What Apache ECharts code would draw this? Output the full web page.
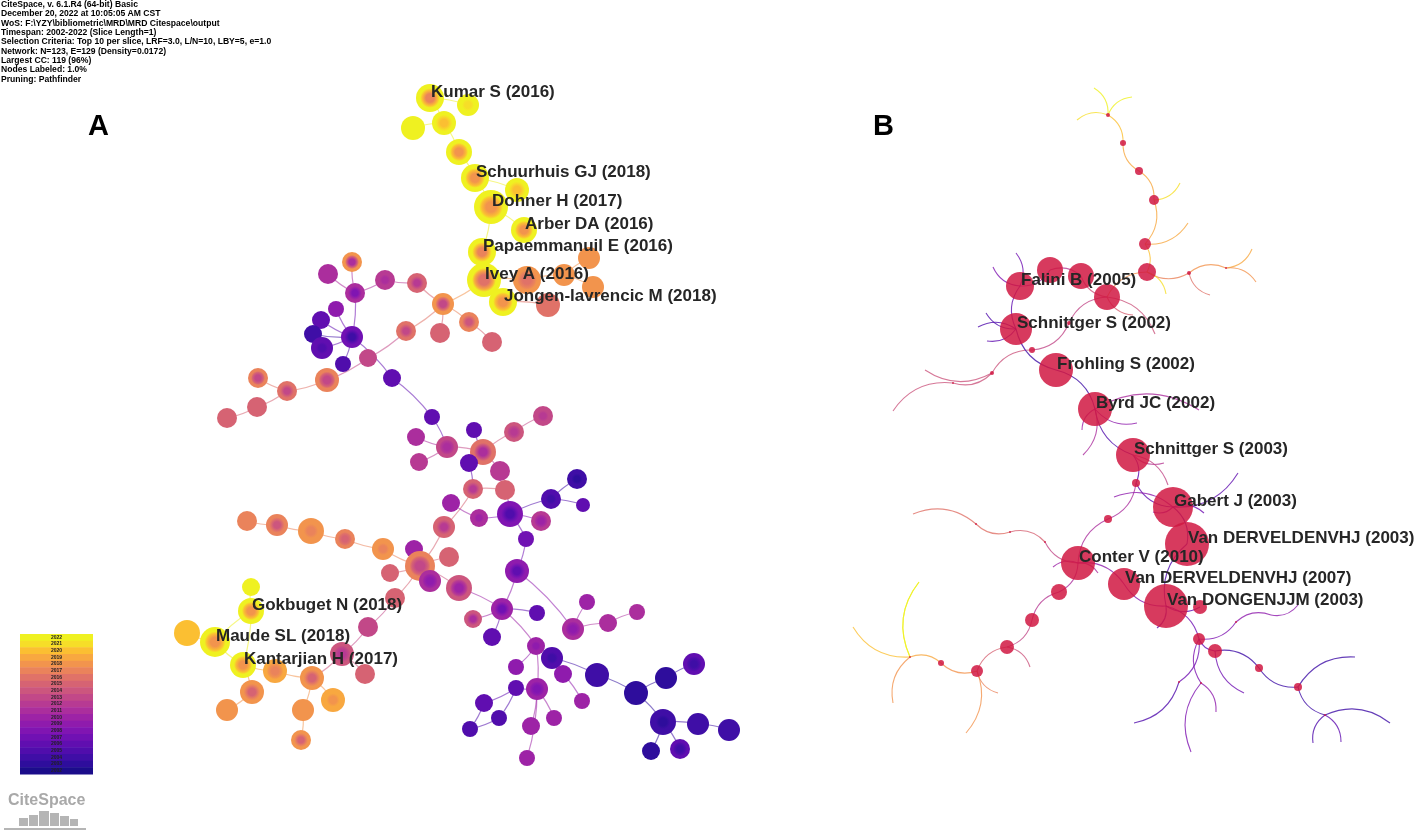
<!DOCTYPE html>
<html><head><meta charset="utf-8">
<script src="https://cdn.jsdelivr.net/npm/echarts@6/dist/echarts.min.js"></script>
<style>html,body{margin:0;padding:0;background:#fff}#c{width:1417px;height:834px}</style>
</head><body><div id="c"></div>
<script>
// ---------- data ----------
const years = [2002,2003,2004,2005,2006,2007,2008,2009,2010,2011,2012,2013,2014,2015,2016,2017,2018,2019,2020,2021,2022];
const yearColors = ['#1b0c8a','#2e0d9c','#3f0ea6','#500dac','#600eb0','#7011b3','#8015b2','#8f1bad','#9d23a6','#ab2e9d','#b73a93','#c24888','#cc567e','#d66373','#e07268','#ea835b','#f2944d','#f8a840','#fbbf32','#f6de28','#eff121'];
const headerLines = [
  'CiteSpace, v. 6.1.R4 (64-bit) Basic',
  'December 20, 2022 at 10:05:05 AM CST',
  'WoS: F:\\YZY\\bibliometric\\MRD\\MRD Citespace\\output',
  'Timespan: 2002-2022 (Slice Length=1)',
  'Selection Criteria: Top 10 per slice, LRF=3.0, L/N=10, LBY=5, e=1.0',
  'Network: N=123, E=129 (Density=0.0172)',
  'Largest CC: 119 (96%)',
  'Nodes Labeled: 1.0%',
  'Pruning: Pathfinder'
];
const panelTitles = ['A','B'];
// panel A nodes: [x, y, radius, outer year, inner year]
const nodesA = [
[430,98,14,2022,2017],[468,105,11,2022,2021],[413,128,12,2022,2022],[444,123,12,2022,2020],[459,152,13,2022,2018],
[475,178,14,2022,2018],[517,190,12,2022,2020],[491,207,17,2022,2018],[524,230,13,2022,2018],[482,252,14,2022,2017],
[589,258,11,2018,2018],[484,280,17,2022,2016],[527,280,14,2018,2016],[564,275,11,2018,2018],[593,287,11,2018,2018],
[503,302,14,2022,2018],[548,305,12,2016,2016],[352,262,10,2018,2011],[328,274,10,2011,2011],[355,293,10,2011,2008],
[385,280,10,2012,2011],[417,283,10,2015,2012],[336,309,8,2009,2009],[321,320,9,2006,2006],[313,334,9,2004,2004],
[352,337,11,2007,2004],[322,348,11,2006,2005],[343,364,8,2005,2005],[368,358,9,2013,2013],[443,304,11,2018,2013],
[469,322,10,2017,2014],[492,342,10,2015,2015],[440,333,10,2015,2015],[406,331,10,2016,2013],[392,378,9,2006,2006],
[327,380,12,2017,2013],[287,391,10,2016,2013],[258,378,10,2017,2013],[257,407,10,2015,2015],[227,418,10,2015,2015],
[432,417,8,2006,2006],[543,416,10,2013,2012],[514,432,10,2014,2012],[474,430,8,2006,2006],[416,437,9,2011,2011],
[447,447,11,2013,2011],[483,452,13,2016,2011],[419,462,9,2012,2012],[469,463,9,2006,2006],[500,471,10,2012,2012],
[473,489,10,2015,2012],[505,490,10,2015,2015],[577,479,10,2004,2003],[551,499,10,2005,2004],[583,505,7,2006,2006],
[451,503,9,2010,2010],[479,518,9,2011,2010],[510,514,13,2008,2005],[541,521,10,2012,2010],[526,539,8,2007,2007],
[444,527,11,2015,2012],[383,549,11,2018,2017],[414,549,9,2010,2010],[449,557,10,2015,2015],[420,566,15,2017,2013],
[390,573,9,2015,2015],[517,571,12,2009,2006],[430,581,11,2011,2009],[459,588,13,2014,2010],[395,598,10,2015,2015],
[502,609,11,2010,2007],[473,619,9,2014,2011],[537,613,8,2006,2006],[587,602,8,2010,2010],[573,629,11,2011,2009],
[608,623,9,2011,2011],[637,612,8,2011,2011],[492,637,9,2006,2006],[536,646,9,2010,2009],[552,658,11,2005,2004],
[516,667,8,2009,2009],[563,674,9,2009,2009],[597,675,12,2004,2004],[516,688,8,2006,2006],[537,689,11,2010,2008],
[484,703,9,2006,2006],[582,701,8,2010,2010],[636,693,12,2003,2003],[666,678,11,2003,2003],[694,664,11,2006,2004],
[499,718,8,2005,2005],[470,729,8,2005,2005],[531,726,9,2010,2010],[554,718,8,2010,2010],[663,722,13,2004,2003],
[698,724,11,2004,2004],[729,730,11,2004,2004],[651,751,9,2003,2003],[680,749,10,2006,2004],[527,758,8,2010,2010],
[247,521,10,2017,2017],[277,525,11,2017,2014],[311,531,13,2018,2017],[345,539,10,2017,2015],[368,627,10,2013,2013],
[342,654,12,2014,2012],[365,674,10,2015,2015],[251,587,9,2022,2022],[251,611,13,2022,2018],[187,633,13,2020,2020],
[215,642,15,2022,2018],[243,665,13,2022,2018],[275,671,12,2019,2017],[312,678,12,2018,2015],[252,692,12,2018,2015],
[333,700,12,2019,2018],[227,710,11,2018,2018],[303,710,11,2018,2018],[301,740,10,2018,2015]
];
const edgesA = [
[0,1],[0,3],[2,3],[3,4],[4,5],[5,6],[5,7],[7,9],[7,8],[9,11],[11,12],[12,13],[13,10],[13,14],[11,15],[15,16],[11,29],
[29,21],[21,20],[20,19],[19,17],[19,18],[19,25],[25,22],[25,23],[25,24],[25,26],[25,27],[25,34],[34,40],
[29,30],[30,31],[29,32],[29,33],[33,28],[28,35],[35,36],[36,37],[36,38],[38,39],
[40,45],[45,44],[45,47],[45,46],[46,43],[46,42],[42,41],[46,48],[46,49],[48,50],[50,60],[60,64],[50,51],[51,57],
[57,53],[53,52],[53,54],[57,56],[56,55],[57,58],[57,59],[59,66],
[64,61],[64,62],[64,63],[64,65],[64,68],[64,69],[61,103],[103,102],[102,101],[101,100],
[69,104],[104,105],[105,106],[105,113],[113,115],[113,117],[117,118],[113,112],[112,111],[111,114],[114,116],
[111,110],[110,109],[110,108],[108,107],[108,111],
[66,70],[68,70],[70,71],[70,77],[70,72],[66,74],[74,73],[74,75],[75,76],[70,78],[78,79],[79,82],[79,81],[81,86],
[82,87],[87,88],[88,89],[87,94],[94,95],[95,96],[94,97],[94,98],[78,80],[78,84],[84,83],[84,92],[84,93],[84,99],
[83,85],[85,91],[83,90],[90,91]
];
const labelsA = [[0,'Kumar S (2016)'],[5,'Schuurhuis GJ (2018)'],[7,'Dohner H (2017)'],[8,'Arber DA (2016)'],
[9,'Papaemmanuil E (2016)'],[11,'Ivey A (2016)'],[15,'Jongen-lavrencic M (2018)'],[108,'Gokbuget N (2018)'],
[110,'Maude SL (2018)'],[111,'Kantarjian H (2017)']];
// panel B nodes: [x, y, radius]  (radius 0 = link end point)
const nodesB = [
[1108,115,2],[1123,143,3],[1139,171,4],[1154,200,5],[1145,244,6],[1147,272,9],[1189,273,2],[1226,268,1],[1050,270,13],[1081,276,13],
[1020,286,14],[1107,297,13],[1016,329,16],[1069,323,2],[1032,350,3],[992,373,2],[953,383,1],[1056,370,17],[1095,409,17],[1133,455,17],
[1136,483,4],[1173,507,20],[1108,519,4],[1187,544,22],[1078,563,17],[1124,584,16],[1166,606,22],[1200,607,7],[1059,592,8],[1032,620,7],
[1007,647,7],[977,671,6],[941,663,3],[910,657,1],[1199,639,6],[1215,651,7],[1259,668,4],[1298,687,4],[1325,715,1],[1236,622,1],
[1179,682,1],[1201,683,1],[1045,542,1],[1010,532,1],[976,524,1],
[1094,88,0],[1132,97,0],[1077,120,0],[1180,183,0],[1188,223,0],[1252,249,0],[1256,282,0],[1210,295,0],[1166,294,0],[1155,334,0],
[1133,315,0],[1016,253,0],[993,267,0],[986,313,0],[978,327,0],[987,341,0],[925,370,0],[893,411,0],[1082,430,0],[1083,455,0],
[1137,423,0],[1199,410,0],[1164,463,0],[1168,485,0],[1238,473,0],[1204,513,0],[1114,497,0],[1153,512,0],[913,514,0],[1053,567,0],
[1098,573,0],[1030,667,0],[998,693,0],[966,733,0],[893,703,0],[853,627,0],[919,582,0],[1134,723,0],[1191,752,0],[1216,712,0],
[1244,693,0],[1271,615,0],[1298,605,0],[1355,657,0],[1390,723,0],[1313,743,0],[1341,742,0],[1157,628,0]
];
// panel B links: [from, to, year]
const edgesB = [
[0,45,2022],[0,46,2022],[0,47,2021],[0,1,2020],[1,2,2019],[2,3,2019],[3,48,2021],[3,4,2019],[4,49,2019],[4,5,2020],
[5,6,2017],[6,7,2018],[7,50,2019],[7,51,2018],[6,52,2016],[5,53,2021],[5,11,2018],[11,9,2014],[9,8,2012],[8,10,2010],
[10,56,2007],[10,57,2008],[10,12,2006],[12,58,2005],[12,59,2005],[12,60,2006],[11,55,2015],[11,54,2014],[11,13,2013],[13,14,2013],
[14,15,2014],[15,16,2014],[16,62,2014],[15,61,2014],[12,17,2004],[17,18,2004],[18,19,2005],[19,20,2006],[20,21,2006],[21,23,2004],
[23,26,2005],[20,22,2011],[22,24,2011],[24,42,2013],[42,43,2015],[43,44,2016],[44,73,2016],[24,25,2009],[25,26,2008],[24,28,2011],
[28,29,2012],[29,30,2013],[30,31,2015],[31,32,2018],[32,33,2019],[33,80,2020],[33,79,2018],[33,81,2022],[81,33,2022],[31,78,2018],
[31,77,2017],[30,76,2014],[18,63,2010],[18,64,2011],[18,65,2009],[18,66,2011],[19,67,2012],[19,68,2013],[21,69,2006],[21,70,2007],
[21,71,2009],[21,72,2008],[26,27,2006],[26,34,2007],[34,35,2006],[35,36,2004],[36,37,2004],[37,88,2004],[37,38,2004],[38,89,2004],
[38,90,2005],[38,91,2006],[34,39,2008],[39,86,2009],[86,87,2009],[34,40,2007],[34,41,2008],[40,82,2005],[41,83,2008],[41,84,2009],
[35,85,2007],[26,92,2006],[24,74,2010],[24,75,2011]
];
const labelsB = [[10,'Falini B (2005)'],[12,'Schnittger S (2002)'],[17,'Frohling S (2002)'],[18,'Byrd JC (2002)'],
[19,'Schnittger S (2003)'],[21,'Gabert J (2003)'],[23,'Van DERVELDENVHJ (2003)'],[24,'Conter V (2010)'],
[25,'Van DERVELDENVHJ (2007)'],[26,'Van DONGENJJM (2003)']];

// ---------- build ----------
const colorOf = y => yearColors[years.indexOf(y)];
const FONT = '"Liberation Sans", Arial, sans-serif';

const nodeDataA = nodesA.map(n => {
  const [x,y,r,yo,yi] = n;
  const ym = Math.round((yo+yi)/2);
  return {
    value:[x,y], symbolSize:2*r,
    itemStyle:{opacity:1, color:{type:'radial',x:0.5,y:0.5,r:0.5,colorStops:[
      {offset:0,color:colorOf(yi)},{offset:0.3,color:colorOf(yi)},
      {offset:0.55,color:colorOf(ym)},{offset:0.7,color:colorOf(yo)},{offset:1,color:colorOf(yo)}]}}
  };
});
const edgeDataA = edgesA.map(([a,b]) => {
  const A = nodesA[a], B = nodesA[b];
  const yr = Math.min(A[3],B[3]);
  return {coords:[[A[0],A[1]],[B[0],B[1]]], lineStyle:{color:colorOf(yr)}};
});
const labelData = (nodes, labels) => labels.map(([i,t]) => ({value:[nodes[i][0],nodes[i][1]], name:t}));

const nodeDataB = nodesB.filter(n => n[2] > 0).map(n => ({value:[n[0],n[1]], symbolSize:2*n[2]}));
const edgeDataB = edgesB.map(([a,b,yr],k) => ({
  coords:[[nodesB[a][0],nodesB[a][1]],[nodesB[b][0],nodesB[b][1]]],
  lineStyle:{color:colorOf(yr), curveness:(k%2?0.3:-0.3)}
}));

const graphics = [];
headerLines.forEach((t,i) => graphics.push({type:'text', left:1, top:0+i*9.35,
  style:{text:t, font:'bold 8.6px '+FONT, fill:'#000'}}));
graphics.push({type:'text', left:88, top:112, style:{text:panelTitles[0], font:'bold 29px '+FONT, fill:'#000'}});
graphics.push({type:'text', left:873, top:112, style:{text:panelTitles[1], font:'bold 29px '+FONT, fill:'#000'}});
// year legend
const bandH = 140/years.length;
years.slice().reverse().forEach((yr,i) => {
  graphics.push({type:'rect', shape:{x:20,y:634+i*bandH,width:73,height:bandH+0.4}, style:{fill:colorOf(yr)}, z:10});
  graphics.push({type:'text', x:56.5, y:634+i*bandH+bandH/2, z:11,
    style:{text:String(yr), font:'bold 5px '+FONT, fill:'#222', align:'center', verticalAlign:'middle'}});
});
// CiteSpace logo
graphics.push({type:'text', left:8, top:793, style:{text:'CiteSpace', font:'bold 16px '+FONT, fill:'#a9a9a9'}});
[[19,818,9,8],[29,815,9,11],[39,811,10,15],[50,813,9,13],[60,816,9,10],[70,819,8,7]].forEach(b =>
  graphics.push({type:'rect', shape:{x:b[0],y:b[1],width:b[2],height:b[3]}, style:{fill:'#b5b5b5'}}));
graphics.push({type:'rect', shape:{x:4,y:828,width:82,height:2}, style:{fill:'#b5b5b5'}});

const labelSeries = (nodes, labels) => ({
  type:'scatter', data:labelData(nodes,labels), symbolSize:0, z:20, silent:true,
  itemStyle:{opacity:1},
  label:{show:true, position:[1,-6], align:'left', verticalAlign:'middle', formatter:p=>p.name,
    fontFamily:FONT, fontWeight:'bold', fontSize:17, color:'#262626', opacity:1}
});

const chart = echarts.init(document.getElementById('c'), null, {renderer:'canvas'});
chart.setOption({
  animation:false, backgroundColor:'#fff',
  grid:{left:0,right:0,top:0,bottom:0},
  xAxis:{type:'value',min:0,max:1417,show:false},
  yAxis:{type:'value',min:0,max:834,inverse:true,show:false},
  graphic:graphics,
  series:[
    {type:'lines', coordinateSystem:'cartesian2d', data:edgeDataA, z:1, silent:true,
      lineStyle:{width:1.2, opacity:0.55, curveness:0.08}},
    {type:'scatter', data:nodeDataA, z:2, silent:true},
    {type:'lines', coordinateSystem:'cartesian2d', data:edgeDataB, z:1, silent:true,
      lineStyle:{width:1.1, opacity:0.8}},
    {type:'scatter', data:nodeDataB, z:3, silent:true, itemStyle:{color:'rgba(208,24,66,0.85)', opacity:1}},
    labelSeries(nodesA,labelsA),
    labelSeries(nodesB,labelsB)
  ]
});
</script></body></html>
